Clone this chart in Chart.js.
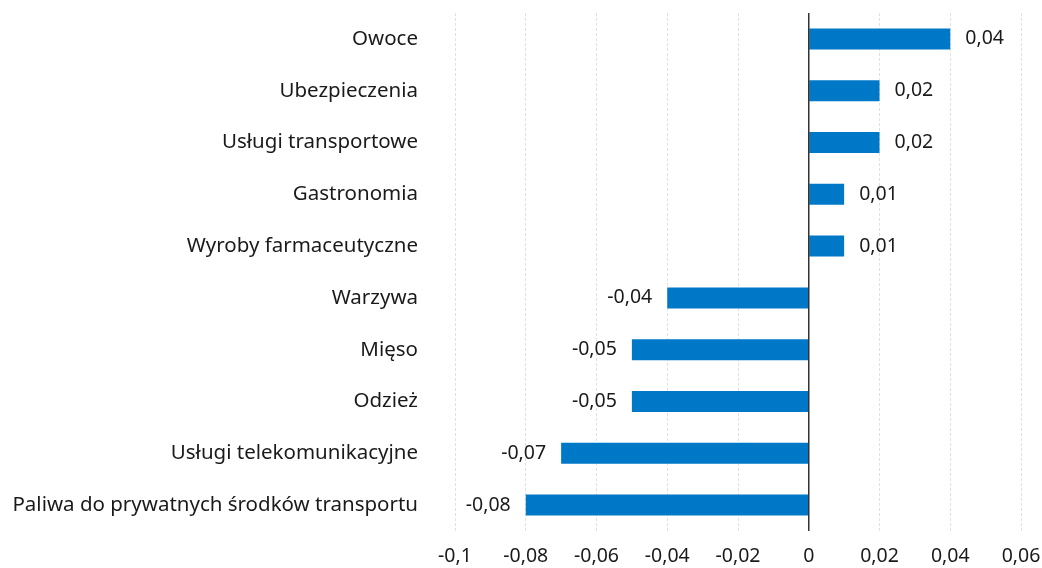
<!DOCTYPE html>
<html>
<head>
<meta charset="utf-8">
<script src="https://cdn.jsdelivr.net/npm/chart.js@4"></script>
<style>
  html, body { margin: 0; padding: 0; background: #fff; }
  #wrap { width: 1042px; height: 568px; }
</style>
</head>
<body>
<div id="wrap"><canvas id="chart"></canvas></div>
<script>
const categories = [
  'Owoce',
  'Ubezpieczenia',
  'Usługi transportowe',
  'Gastronomia',
  'Wyroby farmaceutyczne',
  'Warzywa',
  'Mięso',
  'Odzież',
  'Usługi telekomunikacyjne',
  'Paliwa do prywatnych środków transportu'
];
const values = [0.04, 0.02, 0.02, 0.01, 0.01, -0.04, -0.05, -0.05, -0.07, -0.08];
const xTicks = [-0.1, -0.08, -0.06, -0.04, -0.02, 0, 0.02, 0.04, 0.06];

const fontFamily = '"Noto Sans", "Open Sans", sans-serif';
const textColor = '#1a1a1a';

function fmt(v) {
  return String(Math.round(v * 100) / 100).replace('.', ',');
}

// solid zero line + labels next to the bar ends
const valueLabels = {
  id: 'valueLabels',
  afterDatasetsDraw(chart) {
    const ctx = chart.ctx;
    const x0 = chart.scales.x.getPixelForValue(0);
    const area = chart.chartArea;
    ctx.save();
    ctx.strokeStyle = '#333';
    ctx.lineWidth = 1.5;
    ctx.beginPath();
    ctx.moveTo(x0, area.top);
    ctx.lineTo(x0, area.bottom);
    ctx.stroke();

    const meta = chart.getDatasetMeta(0);
    ctx.font = '19.5px ' + fontFamily;
    ctx.fillStyle = textColor;
    ctx.textBaseline = 'middle';
    meta.data.forEach((bar, i) => {
      const v = values[i];
      if (v >= 0) {
        ctx.textAlign = 'left';
        ctx.fillText(fmt(v), bar.x + 15, bar.y);
      } else {
        ctx.textAlign = 'right';
        ctx.fillText(fmt(v), bar.x - 15, bar.y);
      }
    });
    ctx.restore();
  }
};

new Chart(document.getElementById('chart').getContext('2d'), {
  type: 'bar',
  data: {
    labels: categories,
    datasets: [{
      data: values,
      backgroundColor: '#0078c8',
      borderWidth: 0,
      categoryPercentage: 0.81,
      barPercentage: 0.5
    }]
  },
  options: {
    indexAxis: 'y',
    responsive: true,
    maintainAspectRatio: false,
    animation: false,
    layout: { padding: { top: 13, right: 21, left: 0, bottom: 0 } },
    plugins: {
      legend: { display: false },
      tooltip: { enabled: false }
    },
    scales: {
      x: {
        min: -0.1,
        max: 0.06,
        afterBuildTicks(scale) {
          scale.ticks = xTicks.map(v => ({ value: v }));
        },
        afterFit(scale) { scale.height = 37; },
        grid: {
          drawTicks: true,
          tickLength: 14,
          tickColor: 'rgba(0,0,0,0)',
          color: ctx => ctx.tick && ctx.tick.value === 0 ? 'rgba(0,0,0,0)' : '#e0e0e0',
          lineWidth: 1
        },
        border: { display: false, dash: [3, 2] },
        ticks: {
          padding: 0,
          color: textColor,
          font: { size: 19.5, family: fontFamily },
          callback: v => fmt(v)
        }
      },
      y: {
        afterFit(scale) { scale.width = 455; },
        grid: {
          display: true,
          drawOnChartArea: false,
          drawTicks: true,
          tickLength: 37,
          tickColor: 'rgba(0,0,0,0)'
        },
        border: { display: false },
        ticks: {
          padding: 0,
          color: textColor,
          font: { size: 20.5, family: fontFamily }
        }
      }
    }
  },
  plugins: [valueLabels]
});
</script>
</body>
</html>
